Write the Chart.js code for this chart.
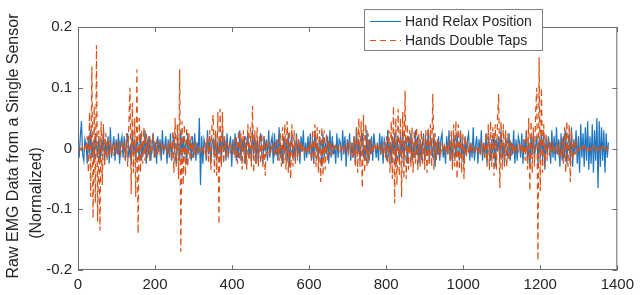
<!DOCTYPE html>
<html>
<head>
<meta charset="utf-8">
<script src="https://cdn.jsdelivr.net/npm/chart.js@4.4.0/dist/chart.umd.min.js"></script>
<style>
  html, body { margin: 0; padding: 0; background: #fff; }
  canvas { display: block; }
</style>
</head>
<body>
<canvas id="emgChart" width="640" height="295"></canvas>
<script>
// sample positions (every 3 samples, 0..1377)
const sampleIdx = [];
for (let s = 0; s <= 1377; s += 3) sampleIdx.push(s);

const seriesNames = ['Hand Relax Position', 'Hands Double Taps'];
const xTicks = [0, 200, 400, 600, 800, 1000, 1200, 1400];
const yTicks = [-0.2, -0.1, 0, 0.1, 0.2];

// Hand Relax Position (blue), 20 values per row
const relaxVals = [
  0.01,-0.015,0.02,0.045,-0.01,-0.02,0.015,0.005,-0.025,0.02,-0.01,0.03,-0.015,0.01,-0.02,0.025,0.005,-0.015,0.02,-0.025,
  0.015,-0.005,0.03,-0.02,0.01,-0.01,0.02,-0.025,0.035,-0.015,0.005,0.02,-0.02,0.015,-0.01,0.025,-0.025,0.01,0.02,-0.015,
  0.02,-0.02,0.01,0.025,-0.015,0.005,-0.025,0.03,-0.01,0.015,-0.02,0.02,0.005,-0.015,0.025,-0.02,0.01,-0.01,0.03,-0.025,
  0.015,-0.01,0.02,-0.02,0.005,0.025,-0.015,0.01,-0.025,0.02,-0.005,0.015,-0.02,0.03,-0.01,0.005,0.02,-0.025,0.015,-0.015,
  0.025,-0.02,0.01,0.02,-0.01,-0.025,0.015,0.005,-0.02,0.03,-0.015,0.02,-0.01,0.01,-0.025,0.025,-0.005,0.015,-0.02,0.02,
  -0.015,0.025,-0.02,0.01,-0.01,0.05,-0.06,0.02,-0.025,0.015,0.005,-0.02,0.03,-0.01,0.02,-0.025,0.01,0.015,-0.015,0.025,
  -0.02,0.01,-0.01,0.02,-0.025,0.03,-0.005,0.015,-0.02,0.025,-0.015,0.005,0.02,-0.03,0.015,-0.01,0.025,-0.02,0.01,-0.015,
  0.03,-0.02,0.015,-0.005,0.02,-0.025,0.01,0.025,-0.015,0.005,-0.02,0.03,-0.01,0.02,-0.025,0.015,-0.02,0.01,0.025,-0.01,
  -0.025,0.02,-0.005,0.015,-0.02,0.03,-0.015,0.01,0.02,-0.025,0.025,-0.01,0.015,-0.02,0.035,-0.015,0.005,-0.025,0.02,-0.01,
  0.015,-0.02,0.025,-0.03,0.01,0.02,-0.015,0.005,-0.02,0.025,-0.01,0.015,-0.025,0.02,-0.005,0.03,-0.02,0.01,-0.015,0.02,
  -0.01,0.025,-0.02,0.015,-0.025,0.03,-0.005,0.01,-0.02,0.02,0.005,-0.03,0.025,-0.015,0.01,-0.01,0.02,-0.025,0.03,-0.015,
  0.02,-0.01,0.005,-0.025,0.025,-0.015,0.015,0.01,-0.02,0.03,-0.01,0.02,-0.03,0.015,-0.005,0.025,-0.02,0.01,-0.015,0.02,
  -0.025,0.035,-0.01,0.015,-0.02,0.01,0.025,-0.015,0.005,-0.02,0.03,-0.025,0.015,-0.01,0.02,-0.02,0.025,0.005,-0.015,0.01,
  -0.02,0.025,-0.01,0.02,-0.025,0.015,0.005,-0.02,0.03,-0.015,0.01,-0.025,0.02,-0.01,0.025,-0.03,0.015,0.005,-0.02,0.02,
  -0.015,0.03,-0.02,0.01,0.015,-0.025,0.02,-0.005,0.025,-0.02,0.01,-0.015,0.03,-0.01,0.02,-0.025,0.015,-0.02,0.005,0.025,
  -0.02,0.015,-0.01,0.03,-0.025,0.02,0.005,-0.015,0.025,-0.03,0.01,-0.01,0.02,-0.02,0.015,0.025,-0.015,0.005,-0.025,0.02,
  -0.01,0.03,-0.02,0.015,-0.025,0.02,0.01,-0.015,0.025,-0.005,-0.02,0.03,-0.015,0.01,-0.025,0.02,-0.01,0.015,0.025,-0.02,
  0.01,-0.015,0.035,-0.02,0.005,0.02,-0.025,0.015,-0.01,0.03,-0.02,0.01,-0.015,0.025,-0.025,0.02,0.005,-0.02,0.015,-0.01,
  0.025,-0.03,0.015,-0.005,0.02,-0.02,0.03,-0.015,0.01,-0.025,0.02,0.005,-0.015,0.025,-0.02,0.01,-0.01,0.03,-0.025,0.015,
  -0.02,0.02,0.01,-0.015,0.025,-0.025,0.015,-0.005,0.03,-0.02,0.01,-0.03,0.02,-0.01,0.025,-0.015,0.005,0.02,-0.025,0.015,
  -0.015,0.03,-0.02,0.025,-0.035,0.015,-0.01,0.02,0.005,-0.025,0.03,-0.015,0.02,-0.02,0.035,-0.01,0.015,-0.03,0.025,-0.02,
  0.02,-0.015,0.03,-0.025,0.01,0.025,-0.02,0.035,-0.03,0.015,-0.01,0.03,-0.025,0.02,-0.04,0.04,-0.015,0.025,-0.03,0.035,
  -0.02,0.045,-0.035,0.02,-0.025,0.04,-0.04,0.03,-0.02,0.05,-0.065,0.045,-0.03,0.035,-0.02,0.03,-0.04,0.025,-0.015,0.01
];

// Hands Double Taps (orange, dashed), 20 values per row
const tapVals = [
  0.003,-0.003,0.004,-0.002,0.003,-0.004,0.003,-0.003,0.02,-0.04,0.06,-0.08,0.135,-0.115,0.07,-0.09,0.17,-0.12,0.03,-0.135,
  0.045,-0.06,0.04,-0.03,0.025,-0.02,0.015,-0.015,0.012,-0.01,0.008,-0.012,0.01,-0.008,0.006,-0.006,0.008,-0.01,0.006,-0.004,
  0.01,-0.02,0.025,-0.03,0.04,0.1,-0.075,0.075,-0.04,0.05,-0.08,0.13,-0.14,0.05,-0.04,0.03,-0.025,0.035,-0.02,0.025,
  -0.015,0.02,-0.02,0.015,-0.01,0.02,0.01,-0.015,0.015,-0.01,0.01,-0.008,0.006,-0.005,0.004,-0.004,0.005,-0.006,0.008,-0.01,
  0.015,-0.02,0.03,-0.04,0.05,-0.03,0.04,-0.05,0.13,-0.17,0.045,-0.06,0.04,-0.045,0.035,-0.03,0.025,-0.02,0.02,-0.015,
  0.01,-0.01,0.008,-0.006,0.005,-0.004,0.003,-0.004,0.005,-0.006,0.01,-0.015,0.02,-0.025,0.03,-0.035,0.04,0.055,-0.04,0.03,
  -0.045,0.06,-0.125,0.065,-0.03,0.06,-0.025,0.02,-0.015,0.01,-0.01,0.006,-0.005,0.004,-0.005,0.01,-0.015,0.02,-0.025,0.03,
  -0.02,0.025,-0.035,0.03,-0.025,0.02,-0.035,0.04,-0.02,0.035,-0.03,0.07,-0.04,0.03,-0.025,0.035,-0.03,0.02,-0.025,0.025,
  -0.03,0.02,-0.045,0.015,-0.01,0.008,-0.006,0.005,-0.005,0.006,-0.008,0.01,-0.012,0.015,-0.02,0.025,-0.03,0.035,-0.025,0.04,
  -0.035,0.045,-0.04,0.03,-0.05,0.04,-0.03,0.03,-0.025,0.02,-0.02,0.015,-0.012,0.01,-0.008,0.006,-0.005,0.004,-0.004,0.005,
  -0.008,0.012,-0.02,0.03,-0.025,0.04,-0.03,0.035,-0.04,0.03,-0.055,0.035,-0.045,0.03,-0.035,0.025,-0.02,0.015,-0.012,0.008,
  -0.006,0.005,-0.004,0.004,-0.004,0.003,-0.004,0.004,-0.003,0.004,-0.005,0.005,-0.006,0.006,-0.008,0.008,-0.01,0.012,-0.015,0.02,
  -0.03,0.035,-0.04,0.05,-0.03,0.045,-0.065,0.055,-0.04,0.04,-0.03,0.025,-0.02,0.015,-0.01,0.008,-0.006,0.005,-0.004,0.004,
  -0.004,0.005,-0.006,0.008,-0.01,0.012,-0.015,0.02,-0.025,0.03,-0.04,0.045,-0.05,0.07,-0.09,0.05,-0.06,0.065,-0.045,0.05,
  -0.08,0.06,-0.05,0.095,-0.05,0.04,-0.035,0.03,-0.03,0.035,-0.04,0.03,-0.025,0.035,-0.035,0.025,-0.03,0.03,-0.025,0.02,
  -0.035,0.03,-0.04,0.035,-0.025,0.04,-0.03,0.09,-0.035,0.025,-0.02,0.015,-0.012,0.01,-0.008,0.006,-0.005,0.005,-0.006,0.008,
  -0.01,0.015,-0.02,0.03,-0.035,0.04,-0.03,0.045,-0.05,0.04,-0.035,0.03,-0.04,0.025,-0.05,0.02,-0.015,0.012,-0.01,0.008,
  -0.006,0.005,-0.005,0.004,-0.004,0.004,-0.005,0.005,-0.006,0.008,-0.01,0.012,-0.015,0.025,-0.03,0.04,-0.035,0.045,-0.03,0.035,
  -0.045,0.04,-0.035,0.05,0.09,-0.065,0.045,-0.035,0.04,-0.03,0.03,-0.03,0.025,-0.02,0.015,-0.012,0.01,-0.008,0.006,-0.005,
  0.004,-0.004,0.005,-0.006,0.008,-0.01,0.015,-0.02,0.03,-0.035,0.05,-0.07,0.045,-0.04,0.035,-0.03,0.06,0.1,-0.185,0.15,
  -0.07,0.1,-0.04,0.04,-0.03,0.025,-0.02,0.015,-0.012,0.01,-0.008,0.006,-0.005,0.005,-0.005,0.006,-0.008,0.01,-0.015,0.02,
  -0.025,0.035,-0.04,0.045,-0.03,0.04,-0.055,0.03,-0.02,0.015,-0.01,0.008,-0.005,0.004,-0.003,0.003,-0.003,0.003,-0.003,0.003,
  -0.003,0.003,-0.003,0.003,-0.003,0.003,-0.003,0.003,-0.003,0.003,-0.003,0.003,-0.003,0.003,-0.003,0.003,-0.003,0.003,-0.003,0.002
];

const blue = '#1f77c0';
const orange = '#d95319';
const fontFam = '"Liberation Sans", Arial, Helvetica, sans-serif';

// frame, inner tick marks, y label and legend box (MATLAB look)
const matlabAxes = {
  id: 'matlabAxes',
  afterDraw(chart) {
    const ctx = chart.ctx;
    const a = chart.chartArea;
    const xs = chart.scales.x, ys = chart.scales.y;
    ctx.save();
    ctx.strokeStyle = '#6e6e6e';
    ctx.lineWidth = 1;
    ctx.strokeRect(a.left + 0.5, a.top + 0.5, a.right - a.left - 1, a.bottom - a.top - 1);
    ctx.beginPath();
    xTicks.forEach(v => {
      const px = Math.round(xs.getPixelForValue(v)) + 0.5;
      ctx.moveTo(px, a.bottom); ctx.lineTo(px, a.bottom - 5);
      ctx.moveTo(px, a.top); ctx.lineTo(px, a.top + 5);
    });
    yTicks.forEach(v => {
      const py = Math.round(ys.getPixelForValue(v)) + 0.5;
      ctx.moveTo(a.left, py); ctx.lineTo(a.left + 5, py);
      ctx.moveTo(a.right, py); ctx.lineTo(a.right - 5, py);
    });
    ctx.stroke();

    // y axis label, two lines
    ctx.fillStyle = '#262626';
    ctx.font = '16px ' + fontFam;
    ctx.textAlign = 'center';
    ctx.textBaseline = 'middle';
    ctx.save();
    ctx.translate(14, 146);
    ctx.rotate(-Math.PI / 2);
    ctx.fillText('Raw EMG Data from a Single Sensor', 0, 0);
    ctx.restore();
    ctx.save();
    ctx.translate(37, 193);
    ctx.rotate(-Math.PI / 2);
    ctx.fillText('(Normalized)', 0, 0);
    ctx.restore();

    // legend
    ctx.fillStyle = '#fff';
    ctx.fillRect(364, 9, 179, 42);
    ctx.strokeStyle = '#808080';
    ctx.strokeRect(364.5, 9.5, 178, 41);
    const rows = [[blue, [], 21], [orange, [6, 4], 40]];
    rows.forEach((r, i) => {
      ctx.strokeStyle = r[0];
      ctx.setLineDash(r[1]);
      ctx.beginPath();
      ctx.moveTo(370, r[2] + 0.5); ctx.lineTo(401, r[2] + 0.5);
      ctx.stroke();
      ctx.setLineDash([]);
      ctx.fillStyle = '#262626';
      ctx.font = '14px ' + fontFam;
      ctx.textAlign = 'left';
      ctx.fillText(seriesNames[i], 405, r[2] + 1);
    });
    ctx.restore();
  }
};

new Chart(document.getElementById('emgChart'), {
  type: 'line',
  data: {
    datasets: [
      {
        label: seriesNames[0],
        data: sampleIdx.map((x, i) => ({ x: x, y: relaxVals[i] })),
        borderColor: blue,
        borderWidth: 1.25,
        pointRadius: 0,
        tension: 0,
        order: 2
      },
      {
        label: seriesNames[1],
        data: sampleIdx.map((x, i) => ({ x: x, y: tapVals[i] })),
        borderColor: orange,
        borderWidth: 1.25,
        borderDash: [6, 4],
        pointRadius: 0,
        tension: 0,
        order: 1
      }
    ]
  },
  options: {
    responsive: false,
    animation: false,
    devicePixelRatio: 1,
    layout: { padding: { top: 27, right: 22, left: 0, bottom: 0 } },
    plugins: { legend: { display: false }, tooltip: { enabled: false } },
    scales: {
      x: {
        type: 'linear',
        min: 0, max: 1400,
        afterFit(scale) { scale.height = 25; },
        afterBuildTicks(scale) { scale.ticks = xTicks.map(v => ({ value: v })); },
        grid: { display: false, drawTicks: false },
        border: { display: false },
        ticks: {
          padding: 6, color: '#262626', font: { family: fontFam, size: 15 }, maxRotation: 0,
          callback: v => String(v)
        }
      },
      y: {
        min: -0.2, max: 0.2,
        afterFit(scale) { scale.width = 78; },
        afterBuildTicks(scale) { scale.ticks = yTicks.map(v => ({ value: v })); },
        grid: { display: false, drawTicks: false },
        border: { display: false },
        ticks: {
          padding: 6, color: '#262626', font: { family: fontFam, size: 15 },
          callback: v => (v === 0 ? '0' : String(v))
        }
      }
    }
  },
  plugins: [matlabAxes]
});
</script>
</body>
</html>
